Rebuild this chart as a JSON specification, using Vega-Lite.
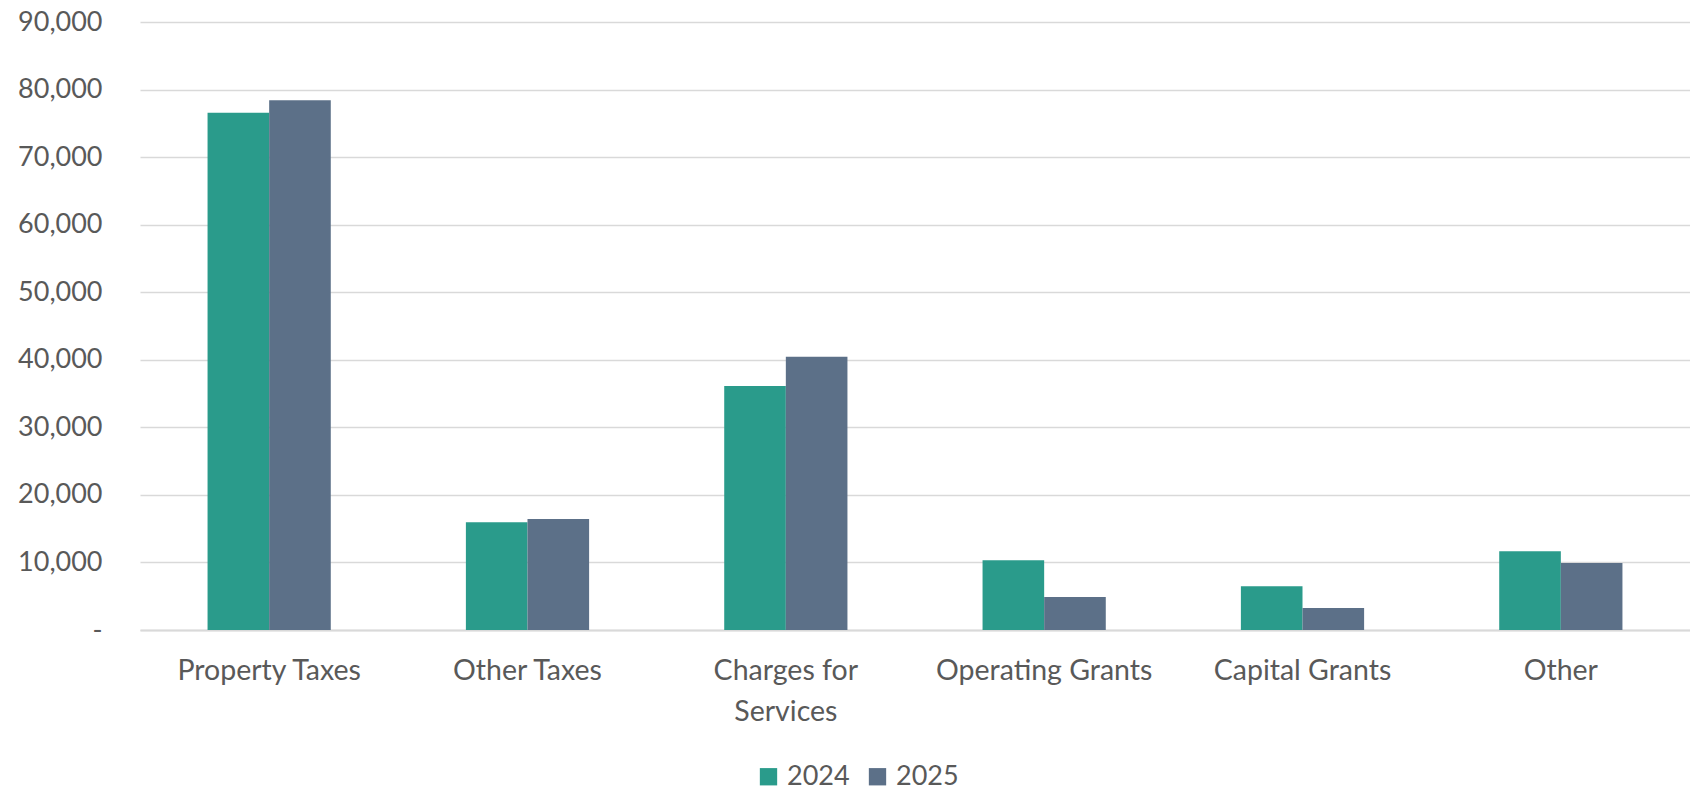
{
  "$schema": "https://vega.github.io/schema/vega-lite/v6.json",
  "autosize": "none",
  "width": 1550,
  "height": 608,
  "padding": {"left": 140, "top": 22, "right": 0, "bottom": 161},
  "background": "white",
  "config": {
    "view": {"stroke": null},
    "font": "Lato"
  },
  "data": {
    "values": [
      {"category": "Property Taxes", "year": "2024", "value": 76570},
      {"category": "Property Taxes", "year": "2025", "value": 78400},
      {"category": "Other Taxes", "year": "2024", "value": 15940},
      {"category": "Other Taxes", "year": "2025", "value": 16430},
      {"category": "Charges for Services", "year": "2024", "value": 36120},
      {"category": "Charges for Services", "year": "2025", "value": 40440},
      {"category": "Operating Grants", "year": "2024", "value": 10310},
      {"category": "Operating Grants", "year": "2025", "value": 4880},
      {"category": "Capital Grants", "year": "2024", "value": 6470},
      {"category": "Capital Grants", "year": "2025", "value": 3260},
      {"category": "Other", "year": "2024", "value": 11650},
      {"category": "Other", "year": "2025", "value": 9920}
    ]
  },
  "mark": {"type": "bar"},
  "encoding": {
    "x": {
      "field": "category",
      "type": "nominal",
      "sort": ["Property Taxes", "Other Taxes", "Charges for Services", "Operating Grants", "Capital Grants", "Other"],
      "scale": {"paddingInner": 0.523, "paddingOuter": 0.2615},
      "axis": {
        "title": null,
        "labelAngle": 0,
        "labelFontSize": 28.5,
        "labelColor": "#595959",
        "labelPadding": 26,
        "labelLineHeight": 41,
        "labelBaseline": "top",
        "labelLimit": 0,
        "ticks": false,
        "domain": true,
        "domainColor": "#D9D9D9",
        "domainWidth": 2,
        "labelExpr": "datum.label == 'Charges for Services' ? ['Charges for', 'Services'] : datum.label"
      }
    },
    "xOffset": {"field": "year", "type": "nominal"},
    "y": {
      "field": "value",
      "type": "quantitative",
      "scale": {"domain": [0, 90000]},
      "axis": {
        "title": null,
        "values": [0, 10000, 20000, 30000, 40000, 50000, 60000, 70000, 80000, 90000],
        "labelExpr": "datum.value == 0 ? '-' : format(datum.value, ',')",
        "labelFontSize": 27,
        "labelColor": "#595959",
        "labelPadding": 38,
        "ticks": false,
        "domain": false,
        "gridColor": "#D9D9D9",
        "gridWidth": 1.5
      }
    },
    "color": {
      "field": "year",
      "type": "nominal",
      "scale": {"domain": ["2024", "2025"], "range": ["#2A9B8B", "#5C7088"]},
      "legend": {
        "title": null,
        "orient": "none",
        "direction": "horizontal",
        "legendX": 615,
        "legendY": 741,
        "symbolType": "square",
        "symbolSize": 300,
        "symbolStrokeWidth": 0,
        "labelFontSize": 27,
        "labelColor": "#595959",
        "columnPadding": 14,
        "labelOffset": 5
      }
    }
  }
}
